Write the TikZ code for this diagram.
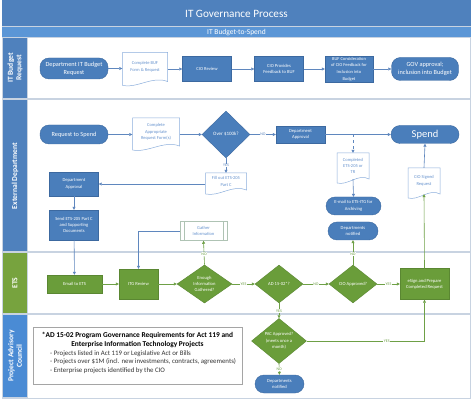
\documentclass[tikz,border=0pt]{standalone}
\usepackage{fontspec}
\setmainfont{Carlito}
\usetikzlibrary{shapes.geometric,arrows.meta,calc}
\definecolor{titleblue}{RGB}{79,129,189}
\definecolor{subblue}{RGB}{91,150,214}
\definecolor{framecol}{RGB}{200,211,225}
\definecolor{laneblue}{RGB}{79,129,189}
\definecolor{lanegreen}{RGB}{119,163,62}
\definecolor{lanepac}{RGB}{74,139,212}
\definecolor{nodeblue}{RGB}{74,126,187}
\definecolor{nodeblueedge}{RGB}{60,105,160}
\definecolor{nodegreen}{RGB}{106,157,58}
\definecolor{nodegreenedge}{RGB}{90,135,50}
\definecolor{docedge}{RGB}{140,175,220}
\definecolor{doctext}{RGB}{100,145,205}
\definecolor{arrowblue}{RGB}{95,135,190}
\definecolor{arrowgreen}{RGB}{110,160,70}
\definecolor{notegray}{RGB}{165,165,165}
\definecolor{gatheredge}{RGB}{175,195,180}
\newcommand{\fs}[2]{\fontsize{#1}{#2}\selectfont}
\newcommand{\docnode}[6]{%
  \path[docshape] (#2-#4/2,#3-#5/2) -- (#2+#4/2,#3-#5/2) -- (#2+#4/2,#3+#5/2-4)
    .. controls (#2+#4/6,#3+#5/2-10) and (#2-#4/6,#3+#5/2+3) .. (#2-#4/2,#3+#5/2) -- cycle;
  \node[doctxt, minimum width=#4, minimum height=#5-4] (#1) at (#2,#3-2) {#6};}
\begin{document}
\begin{tikzpicture}[x=1pt,y=-1pt,
  every node/.style={inner sep=1pt, align=center},
  bluebox/.style={fill=nodeblue, draw=nodeblueedge, line width=0.4pt, text=white, font=\fs{4.6}{6.4}},
  pill/.style={bluebox, rounded corners=9pt},
  greenbox/.style={fill=nodegreen, draw=nodegreenedge, line width=0.4pt, text=white, font=\fs{4.6}{6.4}},
  gdiamond/.style={diamond, greenbox, inner sep=0pt},
  docshape/.style={fill=white, draw=docedge, line width=0.5pt},
  doctxt/.style={text=doctext, font=\fs{4.5}{6.4}},
  lanetxt/.style={text=white, font=\bfseries\fs{7.6}{8.6}, rotate=90},
  arrb/.style={draw=arrowblue, line width=0.6pt, -{Triangle[length=3pt,width=3pt]}},
  arrg/.style={draw=arrowgreen, line width=0.6pt, -{Triangle[length=3pt,width=3pt]}},
  labb/.style={font=\fs{4}{5}, text=arrowblue, fill=white, inner sep=0.5pt},
  labg/.style={font=\fs{4}{5}, text=arrowgreen, fill=white, inner sep=0.5pt}]
\useasboundingbox (0,0) rectangle (474,403);
\fill[white] (0,0) rectangle (474,403);
% frame and bars
\fill[framecol] (2,0) rectangle (471,399);
\fill[titleblue] (2,0) rectangle (471,26);
\fill[subblue] (2,27) rectangle (471,37);
\node[text=white, font=\fs{11.2}{13}] (title) at (236.5,13.5) {IT Governance Process};
\node[text=white, font=\fs{7.5}{9}] (subtitle) at (236.5,32.5) {IT Budget-to-Spend};
% lanes
\fill[laneblue] (3,38.5) rectangle (27,98);
\fill[white] (28,38.5) rectangle (470,98);
\fill[laneblue] (3,100) rectangle (27,251.5);
\fill[white] (28,100) rectangle (470,251.5);
\fill[lanegreen] (3,253) rectangle (27,313);
\fill[white] (28,253) rectangle (470,313.5);
\fill[lanepac] (3,315) rectangle (27,397);
\fill[white] (28,315) rectangle (470,397.5);
\node[lanetxt] (lane1) at (15,68) {IT Budget\\Request};
\node[lanetxt] (lane2) at (15,176) {External Department};
\node[lanetxt] (lane3) at (15,283) {ETS};
\node[lanetxt] (lane4) at (15,356) {Project Advisory\\Council};
% ---- lane 1
\node[pill, font=\fs{6.3}{8}, minimum width=68, minimum height=21] (b1) at (74,68.5) {Department IT Budget\\Request};
\docnode{b2}{145}{69}{45}{33}{Complete BUF\\Form \& Request}
\node[bluebox, minimum width=49, minimum height=25] (b3) at (207,69) {CIO Review};
\node[bluebox, minimum width=49, minimum height=25] (b4) at (279,69) {CIO Provides\\Feedback to BUF};
\node[bluebox, font=\fs{4.5}{6.6}, minimum width=48, minimum height=26, inner sep=0pt] (b5) at (349,69) {BUF Consideration\\of CIO Feedback for\\Inclusion into\\Budget};
\node[pill, font=\fs{6.3}{8}, minimum width=67, minimum height=23] (b6) at (425,69) {GOV approval;\\inclusion into Budget};
\draw[arrb] (b1.east) -- (b2.west |- b1.east);
\draw[arrb] (b2.east |- b3.west) -- (b3.west);
\draw[arrb] (b3) -- (b4);
\draw[arrb] (b4) -- (b5);
\draw[arrb] (b5) -- (b6);
% ---- lane 2
\node[pill, font=\fs{6.3}{8}, minimum width=68, minimum height=19] (r1) at (74,134.5) {Request to Spend};
\docnode{r2}{156}{134}{47}{32}{Complete\\Appropriate\\Request Form(s)}
\node[diamond, bluebox, font=\fs{5}{6}, inner sep=0pt, minimum width=48, minimum height=47] (r3) at (226,134.5) {Over \$100k?};
\node[bluebox, minimum width=49, minimum height=17] (r4) at (300.5,134.5) {Department\\Approval};
\node[pill, font=\fs{10.5}{12}, minimum width=68, minimum height=18] (r5) at (425,134.5) {Spend};
\docnode{r6}{353}{168}{32}{30}{Completed\\ETS-205 or\\TR}
\node[pill, minimum width=55, minimum height=18] (r7) at (353.5,206) {E-mail to ETS-ITG for\\Archiving};
\node[pill, minimum width=50, minimum height=18] (r8) at (353,231) {Departments\\notified};
\docnode{r9}{424}{183}{32}{30}{CIO Signed\\Request}
\docnode{r10}{226}{183.5}{41}{21}{Fill out ETS-205\\Part C}
\node[bluebox, minimum width=49, minimum height=24] (r11) at (74,184) {Department\\Approval};
\node[bluebox, minimum width=49, minimum height=30] (r12) at (74,225) {Send ETS-205 Part C\\and Supporting\\Documents};
\node[draw=gatheredge, fill=white, line width=0.5pt, text=doctext, font=\fs{4.5}{6.4}, minimum width=47, minimum height=19] (r13) at (203.5,231) {Gather\\Information};
\draw[gatheredge, line width=0.5pt] ($(r13.north west)+(4,0)$) -- ($(r13.south west)+(4,0)$);
\draw[gatheredge, line width=0.5pt] ($(r13.north east)+(-4,0)$) -- ($(r13.south east)+(-4,0)$);
\draw[arrb] (r1) -- (r2.west |- r1);
\draw[arrb] (r2.east |- r3) -- (r3);
\draw[arrb] (r3) -- node[labb]{NO} (r4);
\draw[arrb] (r4) -- (r5);
\coordinate (dj) at (353,134.5);
\draw[arrb, dashed] (dj) -- (r6.north);
\draw[arrb] (r6.south) -- (r7.north);
\draw[arrb] (r9.north) -- (r5.south);
\draw[arrb] (r3.south) -- node[labb]{YES} (r10.north);
\draw[arrb] (r11.east -| r10.west) -- (r11.east);
\draw[arrb] (r11) -- (r12);
% ---- lane 3
\node[greenbox, minimum width=55, minimum height=18] (e1) at (74.5,284) {Email to ETS};
\node[greenbox, minimum width=39, minimum height=30] (e2) at (138.5,284) {ITG Review};
\node[gdiamond, minimum width=55, minimum height=38] (e3) at (204.5,284) {Enough\\Information\\Gathered?};
\node[gdiamond, minimum width=48, minimum height=38] (e4) at (279,284) {AD 15-02*?};
\node[gdiamond, minimum width=48, minimum height=38] (e5) at (353,284) {CIO Approved?};
\node[greenbox, minimum width=49, minimum height=31] (e6) at (424.5,284) {eSign and Prepare\\Completed Request};
\draw[arrb] (r12) -- (e1);
\draw[arrb] (r13.west) -| (e2.north);
\draw[arrg] (e1) -- (e2);
\draw[arrg] (e2) -- (e3);
\draw[arrg] (e3) -- node[labg]{YES} (e4);
\draw[arrg] (e4) -- node[labg]{NO} (e5);
\draw[arrg] (e5) -- node[labg]{YES} (e6);
\draw[arrg] (e3.north) -- node[labg, pos=0.45]{NO} (r13.south);
\draw[arrg] (e5.north) -- node[labg, pos=0.45]{NO} (r8.south);
\draw[arrg] (e6.north) -- (r9.south);
% ---- lane 4
\node[gdiamond, minimum width=55, minimum height=38] (p1) at (279,341) {PAC Approved?\\(meets once a\\month)};
\node[pill, minimum width=49, minimum height=18] (p2) at (279.5,384) {Departments\\notified};
\draw[arrg] (e4.south) -- node[labg]{YES} (p1.north);
\draw[arrg] (p1.south) -- node[labg]{NO} (p2.north);
\draw[arrg] (p1.east) -| node[labg, pos=0.34]{YES} (e6.south);
% note
\node[draw=notegray, fill=white, line width=0.6pt, minimum width=209, minimum height=57] (note) at (137.5,356) {};
\node[font=\bfseries\fs{7.4}{9}] (notehead) at (137.5,339.5) {*AD 15-02 Program Governance Requirements for Act 119 and\\Enterprise Information Technology Projects};
\node[anchor=west, align=left, font=\fs{6.85}{8.7}, text=black!80] (notelist) at (49,362) {- Projects listed in Act 119 or Legislative Act or Bills\\- Projects over \$1M (incl. new investments, contracts, agreements)\\- Enterprise projects identified by the CIO};
\end{tikzpicture}
\end{document}
